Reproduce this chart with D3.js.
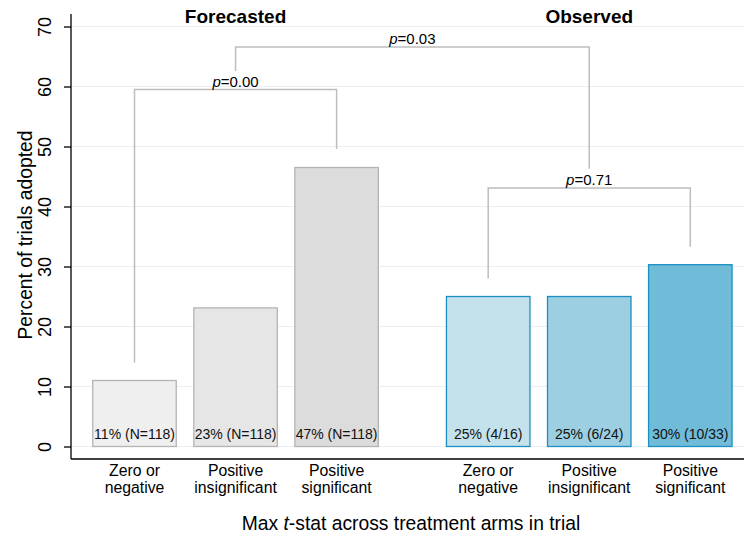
<!DOCTYPE html>
<html>
<head>
<meta charset="utf-8">
<script src="https://cdn.jsdelivr.net/npm/d3@7"></script>
<style>
  html, body { margin: 0; padding: 0; background: #fff; }
  svg { display: block; font-family: Arial, "Liberation Sans", Helvetica, sans-serif; }
</style>
</head>
<body>
<svg id="chart" width="744" height="538"></svg>
<script>
// Adoption rate by max t-stat bucket
const categories = ["Zero or|negative", "Positive|insignificant", "Positive|significant"];
const groups = ["Forecasted", "Observed"];
const forecastedValues = [11, 23.1, 46.5];
const observedValues = [25, 25, 30.3];
const forecastedLabels = ["11% (N=118)", "23% (N=118)", "47% (N=118)"];
const observedLabels = ["25% (4/16)", "25% (6/24)", "30% (10/33)"];
const yTicks = [0, 10, 20, 30, 40, 50, 60, 70];

// Comparison brackets: from/to slot, bar height, left/right leg ends
const brackets = [
  { label: "0.00", from: 0, to: 2, top: 59.5, leftEnd: 14, rightEnd: 49.6 },
  { label: "0.03", from: 1, to: 4.5, top: 66.6, leftEnd: 62.6, rightEnd: 46.3 },
  { label: "0.71", from: 3.5, to: 5.5, top: 43.1, leftEnd: 28, rightEnd: 33.3 }
];

const forecastFill = ["#efefef", "#e6e6e6", "#dcdcdc"];
const observedFill = ["#c4e2ec", "#9ccfe2", "#70bbd8"];

const svg = d3.select("#chart");
const plotLeft = 71, plotRight = 744, plotTop = 14, plotBottom = 459;

const y = d3.scaleLinear().domain([0, 70]).range([446.5, 26.5]);
// slot positions: three forecasted bars, gap, three observed bars
const x = d3.scaleLinear().domain([0, 5.5]).range([134.5, 690.3]);
const barW = 83.5;

const bars = [
  ...forecastedValues.map((v, i) => ({ pos: i, v, label: forecastedLabels[i], fill: forecastFill[i], stroke: "#b4b4b4", cat: categories[i] })),
  ...observedValues.map((v, i) => ({ pos: 3.5 + i, v, label: observedLabels[i], fill: observedFill[i], stroke: "#1b8fc2", cat: categories[i] }))
];

// gridlines
svg.append("g").selectAll("line").data(yTicks).join("line")
  .attr("x1", plotLeft).attr("x2", plotRight)
  .attr("y1", d => y(d)).attr("y2", d => y(d))
  .attr("stroke", "#e9f0f4").attr("stroke-width", 1.2);

// y axis
const yAxis = d3.axisLeft(y).tickValues(yTicks).tickSize(7).tickPadding(5);
const yg = svg.append("g").attr("transform", `translate(${plotLeft},0)`).call(yAxis);
yg.select(".domain").remove();
yg.selectAll(".tick line").attr("stroke", "#000").attr("stroke-width", 1.3);
yg.selectAll(".tick text")
  .attr("font-size", 18).attr("fill", "#000")
  .attr("transform", "rotate(-90)")
  .attr("x", 0).attr("y", -26)
  .attr("dy", "0.35em")
  .attr("text-anchor", "middle");
svg.append("line").attr("x1", plotLeft).attr("x2", plotLeft).attr("y1", plotTop).attr("y2", plotBottom)
  .attr("stroke", "#000").attr("stroke-width", 1.3);
svg.append("line").attr("x1", plotLeft).attr("x2", plotRight).attr("y1", plotBottom).attr("y2", plotBottom)
  .attr("stroke", "#000").attr("stroke-width", 1.3);

// y title
svg.append("text")
  .attr("transform", `translate(25,235) rotate(-90)`)
  .attr("text-anchor", "middle").attr("dy", "0.35em")
  .attr("font-size", 19.3).text("Percent of trials adopted");

// bars
svg.append("g").selectAll("rect").data(bars).join("rect")
  .attr("x", d => x(d.pos) - barW / 2)
  .attr("width", barW)
  .attr("y", d => y(d.v))
  .attr("height", d => y(0) - y(d.v))
  .attr("fill", d => d.fill)
  .attr("stroke", d => d.stroke)
  .attr("stroke-width", 1.3);

// value labels inside bars
svg.append("g").selectAll("text").data(bars).join("text")
  .attr("x", d => x(d.pos))
  .attr("y", 434)
  .attr("dy", "0.35em")
  .attr("text-anchor", "middle")
  .attr("font-size", 14).attr("fill", "#111")
  .text(d => d.label);

// category labels
const cl = svg.append("g").selectAll("text").data(bars).join("text")
  .attr("x", d => x(d.pos))
  .attr("y", 470)
  .attr("text-anchor", "middle")
  .attr("font-size", 15.8).attr("fill", "#000");
cl.each(function(d) {
  const parts = d.cat.split("|");
  d3.select(this).selectAll("tspan").data(parts).join("tspan")
    .attr("x", x(d.pos))
    .attr("dy", (p, i) => i === 0 ? "0.35em" : "1.08em")
    .text(p => p);
});

// group titles
svg.append("g").selectAll("text").data(groups).join("text")
  .attr("x", (d, i) => x(i === 0 ? 1 : 4.5))
  .attr("y", 16).attr("dy", "0.35em")
  .attr("text-anchor", "middle")
  .attr("font-size", 19).attr("font-weight", "bold")
  .text(d => d);

// brackets
const bg = svg.append("g");
brackets.forEach(b => {
  const x1 = x(b.from), x2 = x(b.to), yt = y(b.top);
  bg.append("path")
    .attr("d", `M${x1},${y(b.leftEnd)}V${yt}H${x2}V${y(b.rightEnd)}`)
    .attr("fill", "none").attr("stroke", "#bdbdbd").attr("stroke-width", 1.5);
  const t = bg.append("text")
    .attr("x", (x1 + x2) / 2).attr("y", yt - 2.5)
    .attr("text-anchor", "middle").attr("font-size", 15).attr("fill", "#000");
  t.append("tspan").attr("font-style", "italic").text("p");
  t.append("tspan").text("=" + b.label);
});

// x title
const xt = svg.append("text")
  .attr("x", 411).attr("y", 523).attr("dy", "0.35em")
  .attr("text-anchor", "middle").attr("font-size", 19.3);
xt.append("tspan").text("Max ");
xt.append("tspan").attr("font-style", "italic").text("t");
xt.append("tspan").text("-stat across treatment arms in trial");
</script>
</body>
</html>
